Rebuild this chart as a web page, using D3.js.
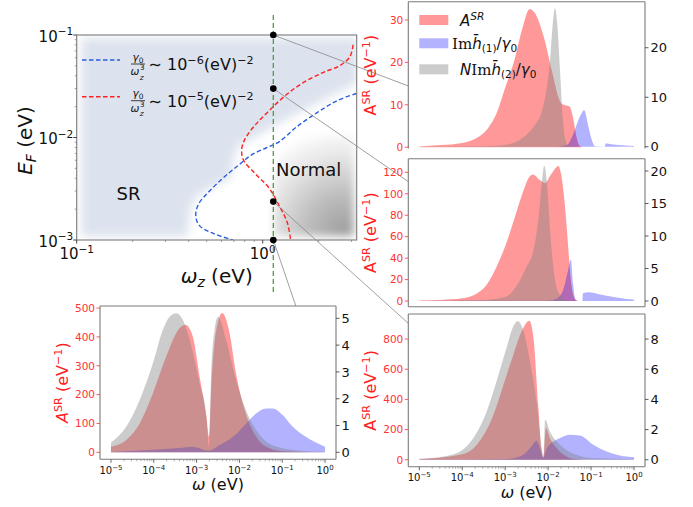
<!DOCTYPE html>
<html><head><meta charset="utf-8">
<script src="https://d3js.org/d3.v7.min.js"></script>
<style>
html,body{margin:0;padding:0;background:#fff;}
svg{display:block;}
text{font-family:"DejaVu Sans","Liberation Sans",sans-serif;}
</style></head><body>
<svg id="fig" width="693" height="507"></svg>
<script>
// ================= DATA =================
// main phase diagram (log10 values)
const mainOmegaMajor = [0.1, 1];
const mainOmegaMinor = [0.2,0.3,0.4,0.5,0.6,0.7,0.8,0.9,2,3];
const mainEFMajor = [1e-3, 1e-2, 1e-1];
const mainEFMinor = [2e-3,3e-3,4e-3,5e-3,6e-3,7e-3,8e-3,9e-3,2e-2,3e-2,4e-2,5e-2,6e-2,7e-2,8e-2,9e-2];

const curve6LogOmega = [0.504,0.40,0.29,0.18,0.09,0.02,-0.06,-0.13,-0.21,-0.29,-0.345,-0.36,-0.34,-0.26,-0.16];
const curve6LogEF    = [-1.571,-1.64,-1.76,-1.90,-2.04,-2.10,-2.17,-2.27,-2.39,-2.53,-2.65,-2.76,-2.86,-2.94,-3.0];
const curve5LogOmega = [0.486,0.468,0.414,0.323,0.214,0.123,0.033,-0.040,-0.095,-0.113,-0.104,-0.040,0.033,0.087,0.132,0.150];
const curve5LogEF    = [-1.095,-1.214,-1.299,-1.367,-1.469,-1.588,-1.741,-1.877,-2.014,-2.116,-2.218,-2.354,-2.490,-2.660,-2.830,-3.0];

const srLogOmega = [-0.975,0.51,0.51,0.323,0.141,-0.040,-0.131,-0.158,-0.167,-0.294,-0.367,-0.394,-0.403,-0.975];
const srLogEF    = [-1.03,-1.03,-1.469,-1.639,-1.809,-1.997,-2.082,-2.218,-2.388,-2.507,-2.592,-2.762,-2.966,-2.966];
const normalLogOmega = [0.06,0.49,0.49,0.06];
const normalLogEF    = [-1.98,-1.98,-2.96,-2.96];

const cutOmega = 1.14;
const cutEF = [0.1, 0.03, 0.00237, 0.001];

// panel x axis (log10 omega)
const panelLogOmegaMajor = [-5,-4,-3,-2,-1,0];

// Panel 1 (E_F = 0.1)
const p1RedLogW  = [-5.0,-4.5,-4.0,-3.7,-3.4,-3.2,-3.0,-2.8,-2.6,-2.43,-2.3,-2.1,-1.9,-1.75,-1.68,-1.5,-1.42,-1.35,-1.28,-1.2,0.0];
const p1Red      = [0.2,0.5,1.0,2.0,4.5,8,14,20,28,32.6,31.5,26,17.5,11.5,10.2,9.6,7,3,0.5,0,0];
const p1BlueLogW = [-5.0,-1.8,-1.57,-1.41,-1.26,-1.16,-1.06,-0.98,-0.91,-0.68,-0.66,-0.48,-0.25,0.0];
const p1Blue     = [0,0,0.3,2.7,6.1,7.4,4,1.3,0.1,0,0.65,0.45,0.3,0.15];
const p1GrayLogW = [-5.0,-3.5,-3.0,-2.7,-2.5,-2.3,-2.15,-2.03,-1.95,-1.9,-1.84,-1.78,-1.72,-1.66,-1.6,-1.52,-1.4,0.0];
const p1Gray     = [0,0.1,0.4,1.2,2.5,4.5,7,12,18,24,28,24,15,6,1.5,0.2,0,0];
const p1TicksL = [0,10,20,30], p1TicksR = [0,10,20];

// Panel 2 (E_F = 0.03)
const p2RedLogW  = [-5.0,-4.5,-4.0,-3.5,-3.2,-3.0,-2.8,-2.6,-2.45,-2.35,-2.2,-2.07,-1.95,-1.8,-1.76,-1.7,-1.62,-1.55,-1.48,-1.4,-1.3,0];
const p2Red      = [0.5,1,2.5,12,32,51,75,100,115,118,113,110,117,125,126,119,94,60,23,4,0,0];
const p2BlueLogW = [-5,-2.0,-1.8,-1.65,-1.55,-1.47,-1.42,-1.36,-1.3,-1.2,-1.19,-1.06,-0.79,-0.48,-0.17,0];
const p2Blue     = [0,0.05,0.4,1.7,4.3,6.4,2.7,0.15,0,0,1.2,1.35,1.0,0.6,0.3,0.2];
const p2GrayLogW = [-5,-3.5,-3.0,-2.7,-2.5,-2.34,-2.22,-2.15,-2.09,-2.03,-1.95,-1.85,-1.75,-1.6,-1.5,0];
const p2Gray     = [0,0.15,0.6,2.7,5.3,7.8,13,18,20.8,18.4,10.4,3.7,1.2,0.2,0,0];
const p2TicksL = [0,20,40,60,80,100,120], p2TicksR = [0,5,10,15,20];

// Panel 3 (E_F ~ 0.0024)
const p3RedLogW  = [-5.0,-4.05,-3.66,-3.27,-3.04,-2.81,-2.58,-2.44,-2.34,-2.23,-2.15,-2.11,-2.05,-1.96,-1.8,-1.57,-1.34,-1.0,0];
const p3Red      = [4,33,100,300,497,696,873,921,806,365,55,11,210,144,77,22,4,0,0];
const p3BlueLogW = [-5,-3.0,-2.89,-2.58,-2.39,-2.27,-2.19,-2.11,-2.03,-1.72,-1.49,-1.26,-0.95,-0.64,-0.33,0];
const p3Blue     = [0.01,0.05,0.07,0.33,0.88,1.26,0.77,0.15,0.77,1.44,1.66,1.61,1.0,0.55,0.29,0.18];
const p3GrayLogW = [-5.0,-4.44,-4.05,-3.74,-3.43,-3.2,-2.97,-2.81,-2.71,-2.57,-2.42,-2.26,-2.15,-2.11,-2.07,-1.96,-1.72,-1.41,-0.95,0];
const p3Gray     = [0.07,0.22,0.55,1.44,3.2,5.2,7.4,8.84,9.2,8.5,6.5,3.65,0.77,0.22,2.65,1.88,1.0,0.4,0.11,0.04];
const p3TicksL = [0,200,400,600,800], p3TicksR = [0,2,4,6,8];

// Panel 4 (E_F = 0.001)
const p4RedLogW  = [-5.0,-4.64,-4.33,-4.02,-3.71,-3.40,-3.26,-3.09,-2.93,-2.77,-2.71,-2.66,-2.54,-2.40,-2.23,-2.08,-1.85,-1.61,-1.38,-0.99,0];
const p4Red      = [20,43,100,205,332,430,442,402,263,124,54,216,425,483,413,274,135,54,20,3.5,0];
const p4BlueLogW = [-5.0,-4.1,-3.4,-3.09,-2.71,-2.46,-2.15,-1.84,-1.61,-1.38,-1.22,-0.99,-0.76,-0.45,0];
const p4Blue     = [0.01,0.09,0.16,0.21,0.06,0.27,0.58,1.08,1.45,1.64,1.64,1.39,0.96,0.58,0.21];
const p4GrayLogW = [-5.0,-4.64,-4.33,-4.02,-3.79,-3.63,-3.47,-3.32,-3.16,-2.93,-2.77,-2.71,-2.66,-2.58,-2.50,-2.31,-2.08,-1.85,-1.61,-1.38,-0.99,-0.58,0];
const p4Gray     = [0.36,0.96,1.95,3.32,4.56,5.06,5.19,4.94,4.19,2.57,1.33,0.2,2.95,4.56,5.06,4.19,2.7,1.58,0.83,0.4,0.15,0.06,0.02];
const p4TicksL = [0,100,200,300,400,500], p4TicksR = [0,1,2,3,4,5];

// ================= DRAW =================
const RED = "rgba(255,0,0,0.4)", BLUE = "rgba(0,0,255,0.3)", GRAY = "rgba(128,128,128,0.4)";
const SPINE = "#7a7a7a", TXT = "#111", LRED = "#ff3333";
const fig = d3.select("#fig");
const defs = fig.append("defs");
defs.append("filter").attr("id","blur5").attr("x","-20%").attr("y","-20%").attr("width","140%").attr("height","140%")
  .append("feGaussianBlur").attr("stdDeviation",5);
defs.append("filter").attr("id","blur4").attr("x","-20%").attr("y","-20%").attr("width","140%").attr("height","140%")
  .append("feGaussianBlur").attr("stdDeviation",4);

function supText(sel, base, exp, size){
  sel.append("tspan").text(base);
  sel.append("tspan").attr("dy", -0.42*size).attr("font-size", size*0.7).text(exp);
}
const expStr = e => e < 0 ? "\u2212" + (-e) : String(e);

// ---------- main panel ----------
const MB = {l:76.7, r:356.7, t:35, b:240};
const xM = d3.scaleLog().domain([0.1, 3.2]).range([MB.l, MB.r]);
const yM = d3.scaleLog().domain([1e-3, 0.1]).range([MB.b, MB.t]);
defs.append("clipPath").attr("id","clipMain").append("rect")
  .attr("x",MB.l).attr("y",MB.t).attr("width",MB.r-MB.l).attr("height",MB.b-MB.t);
const toPts = (lx, ly) => lx.map((v,i)=>[xM(10**v), yM(10**ly[i])]);

const grad = defs.append("radialGradient").attr("id","normGrad").attr("gradientUnits","userSpaceOnUse")
  .attr("cx", xM(10**0.44)).attr("cy", yM(10**-2.92)).attr("r", 105);
grad.append("stop").attr("offset",0).attr("stop-color","#9e9e9e");
grad.append("stop").attr("offset",0.35).attr("stop-color","#bdbdbd");
grad.append("stop").attr("offset",0.7).attr("stop-color","#e4e4e4");
grad.append("stop").attr("offset",1).attr("stop-color","#ffffff");

const gMain = fig.append("g");
const gClip = gMain.append("g").attr("clip-path","url(#clipMain)");
gClip.append("path").attr("d", d3.line()(toPts(srLogOmega, srLogEF)) + "Z")
  .attr("fill","#dde3ee").attr("filter","url(#blur5)");
gClip.append("path").attr("d", d3.line()(toPts(normalLogOmega, normalLogEF)) + "Z")
  .attr("fill","url(#normGrad)").attr("filter","url(#blur4)");
gClip.append("path").attr("d", d3.line().curve(d3.curveCatmullRom)(toPts(curve6LogOmega, curve6LogEF)))
  .attr("fill","none").attr("stroke","#2a5ee0").attr("stroke-width",1.4).attr("stroke-dasharray","4.5,2.5");
gClip.append("path").attr("d", d3.line().curve(d3.curveCatmullRom)(toPts(curve5LogOmega, curve5LogEF)))
  .attr("fill","none").attr("stroke","#ff2020").attr("stroke-width",1.4).attr("stroke-dasharray","4.5,2.5");

// spines
gMain.append("rect").attr("x",MB.l).attr("y",MB.t).attr("width",MB.r-MB.l).attr("height",MB.b-MB.t)
  .attr("fill","none").attr("stroke",SPINE).attr("stroke-width",1.1);
// ticks
gMain.selectAll(".xmaj").data(mainOmegaMajor).join("line")
  .attr("x1",d=>xM(d)).attr("x2",d=>xM(d)).attr("y1",MB.b).attr("y2",MB.b+3.5).attr("stroke","#444");
gMain.selectAll(".xmin").data(mainOmegaMinor).join("line")
  .attr("x1",d=>xM(d)).attr("x2",d=>xM(d)).attr("y1",MB.b).attr("y2",MB.b+2).attr("stroke","#777").attr("stroke-width",0.7);
gMain.selectAll(".ymaj").data(mainEFMajor).join("line")
  .attr("y1",d=>yM(d)).attr("y2",d=>yM(d)).attr("x1",MB.l).attr("x2",MB.l-3.5).attr("stroke","#444");
gMain.selectAll(".ymin").data(mainEFMinor).join("line")
  .attr("y1",d=>yM(d)).attr("y2",d=>yM(d)).attr("x1",MB.l).attr("x2",MB.l-2).attr("stroke","#777").attr("stroke-width",0.7);
mainOmegaMajor.forEach(d=>{
  const t = gMain.append("text").attr("x",xM(d)).attr("y",MB.b+19).attr("text-anchor","middle")
    .attr("font-size",15).attr("fill",TXT);
  supText(t, "10", expStr(Math.round(Math.log10(d))), 15);
});
mainEFMajor.forEach(d=>{
  const t = gMain.append("text").attr("x",MB.l-3.5).attr("y",yM(d)+6.5).attr("text-anchor","end")
    .attr("font-size",15).attr("fill",TXT);
  supText(t, "10", expStr(Math.round(Math.log10(d))), 15);
});
// axis labels
{
  const t = gMain.append("text").attr("x",(MB.l+MB.r)/2).attr("y",283).attr("text-anchor","middle")
    .attr("font-size",20).attr("fill",TXT);
  t.append("tspan").attr("font-style","italic").text("\u03c9");
  t.append("tspan").attr("font-style","italic").attr("font-size",14).attr("dy",4).text("z");
  t.append("tspan").attr("dy",-4).text(" (eV)");
  const u = gMain.append("text").attr("transform",`translate(32,${(MB.t+MB.b)/2+3}) rotate(-90)`)
    .attr("text-anchor","middle").attr("font-size",20).attr("fill",TXT);
  u.append("tspan").attr("font-style","italic").text("E");
  u.append("tspan").attr("font-style","italic").attr("font-size",14).attr("dy",4).text("F");
  u.append("tspan").attr("dy",-4).text(" (eV)");
}
// region labels
gMain.append("text").attr("x",xM(0.19)).attr("y",yM(10**-2.61)).attr("text-anchor","middle")
  .attr("font-size",18).attr("fill",TXT).text("SR");
gMain.append("text").attr("x",xM(1.18)).attr("y",yM(10**-2.375)).attr("text-anchor","start")
  .attr("font-size",18).attr("fill",TXT).text("Normal");

// legend of main panel
function fracLegend(y, color, exp){
  gMain.append("line").attr("x1",82).attr("x2",120).attr("y1",y).attr("y2",y)
    .attr("stroke",color).attr("stroke-width",1.4).attr("stroke-dasharray","4.5,2.5");
  const fx = 138;
  const n = gMain.append("text").attr("x",fx).attr("y",y+0.5).attr("text-anchor","middle").attr("font-size",10.5).attr("fill",TXT);
  n.append("tspan").attr("font-style","italic").text("\u03b3");
  n.append("tspan").attr("font-size",7.5).attr("dy",2).text("0");
  gMain.append("line").attr("x1",fx-7).attr("x2",fx+7).attr("y1",y+4).attr("y2",y+4).attr("stroke",TXT).attr("stroke-width",0.8);
  gMain.append("text").attr("x",fx-7.5).attr("y",y+15).attr("font-size",10.5).attr("font-style","italic").attr("fill",TXT).text("\u03c9");
  gMain.append("text").attr("x",fx+1.8).attr("y",y+10.2).attr("font-size",7.5).attr("fill",TXT).text("3");
  gMain.append("text").attr("x",fx+1.8).attr("y",y+19.5).attr("font-size",7.5).attr("font-style","italic").attr("fill",TXT).text("z");
  const t = gMain.append("text").attr("x",148.5).attr("y",y+10).attr("font-size",16).attr("fill",TXT);
  t.append("tspan").text("\u223c ");
  t.append("tspan").text("10");
  t.append("tspan").attr("font-size",11.2).attr("dy",-6.5).text(exp);
  t.append("tspan").attr("dy",6.5).text("(eV)");
  t.append("tspan").attr("font-size",11.2).attr("dy",-6.5).text("\u22122");
}
fracLegend(60, "#2a5ee0", "\u22126");
fracLegend(96.7, "#ff2020", "\u22125");

// ---------- side panels ----------
const panels = [
  {id:1, l:408.3, r:645, t:1.7, b:148.5, yL:[-0.3,34.3], yR:[-0.35,29.3], tL:p1TicksL, tR:p1TicksR,
   redW:p1RedLogW, red:p1Red, blueW:p1BlueLogW, blue:p1Blue, grayW:p1GrayLogW, gray:p1Gray,
   bottom:false, xlab:false, italicA:false, ylabX:376, conn:[0, 0.574]},
  {id:2, l:408.3, r:645, t:158.7, b:306.7, yL:[-5.3,132.7], yR:[-0.88,21.9], tL:p2TicksL, tR:p2TicksR,
   redW:p2RedLogW, red:p2Red, blueW:p2BlueLogW, blue:p2Blue, grayW:p2GrayLogW, gray:p2Gray,
   bottom:true, xlab:false, italicA:false, ylabX:376, conn:[0, 0.155]},
  {id:3, l:408.3, r:645, t:314, b:466.7, yL:[-46,966], yR:[-0.46,9.66], tL:p3TicksL, tR:p3TicksR,
   redW:p3RedLogW, red:p3Red, blueW:p3BlueLogW, blue:p3Blue, grayW:p3GrayLogW, gray:p3Gray,
   bottom:true, xlab:true, italicA:false, ylabX:376, conn:[0, 0.061]},
  {id:4, l:100, r:336, t:306, b:459.3, yL:[-24.15,507.2], yR:[-0.26,5.46], tL:p4TicksL, tR:p4TicksR,
   redW:p4RedLogW, red:p4Red, blueW:p4BlueLogW, blue:p4Blue, grayW:p4GrayLogW, gray:p4Gray,
   bottom:true, xlab:true, italicA:true, ylabX:68, conn:[0.83, 0]}
];

// connection lines (under the panels)
const gConn = fig.append("g");
panels.forEach((p,i)=>{
  gConn.append("line").attr("x1",xM(cutOmega)).attr("y1",yM(cutEF[i]))
    .attr("x2",p.l + p.conn[0]*(p.r-p.l)).attr("y2",p.t + p.conn[1]*(p.b-p.t))
    .attr("stroke","#888").attr("stroke-width",0.8);
});

function drawPanel(p){
  const g = fig.append("g");
  const x = d3.scaleLog().domain([10**-5.256, 10**0.256]).range([p.l, p.r]);
  const yL = d3.scaleLinear().domain(p.yL).range([p.b, p.t]);
  const yR = d3.scaleLinear().domain(p.yR).range([p.b, p.t]);
  g.append("rect").attr("x",p.l).attr("y",p.t).attr("width",p.r-p.l).attr("height",p.b-p.t).attr("fill","#fff");
  defs.append("clipPath").attr("id","clipP"+p.id).append("rect")
    .attr("x",p.l).attr("y",p.t).attr("width",p.r-p.l).attr("height",p.b-p.t);
  const gp = g.append("g").attr("clip-path",`url(#clipP${p.id})`);
  const area = (ys, lw, v) => d3.area().curve(d3.curveMonotoneX)
    .x((d,i)=>x(10**lw[i])).y0(ys(0)).y1(d=>ys(d))(v);
  gp.append("path").attr("d", area(yL, p.redW, p.red)).attr("fill", RED);
  gp.append("path").attr("d", area(yR, p.blueW, p.blue)).attr("fill", BLUE);
  gp.append("path").attr("d", area(yR, p.grayW, p.gray)).attr("fill", GRAY);
  // spines
  const sp = (x1,y1,x2,y2)=>g.append("line").attr("x1",x1).attr("y1",y1).attr("x2",x2).attr("y2",y2)
    .attr("stroke",SPINE).attr("stroke-width",1.1);
  sp(p.l,p.t,p.r,p.t); sp(p.l,p.t,p.l,p.b); sp(p.r,p.t,p.r,p.b);
  if (p.bottom) sp(p.l,p.b,p.r,p.b);
  // left ticks (red)
  p.tL.forEach(v=>{
    g.append("line").attr("x1",p.l-3.5).attr("x2",p.l).attr("y1",yL(v)).attr("y2",yL(v)).attr("stroke",LRED).attr("stroke-width",0.8);
    g.append("text").attr("x",p.l-5).attr("y",yL(v)+3.8).attr("text-anchor","end").attr("font-size",10.5)
      .attr("fill",LRED).text(v);
  });
  // right ticks
  p.tR.forEach(v=>{
    g.append("line").attr("x1",p.r).attr("x2",p.r+3.5).attr("y1",yR(v)).attr("y2",yR(v)).attr("stroke","#333").attr("stroke-width",0.8);
    g.append("text").attr("x",p.r+5.5).attr("y",yR(v)+4.7).attr("text-anchor","start").attr("font-size",13)
      .attr("fill",TXT).text(v);
  });
  // x axis
  if (p.xlab){
    panelLogOmegaMajor.forEach(e=>{
      g.append("line").attr("x1",x(10**e)).attr("x2",x(10**e)).attr("y1",p.b).attr("y2",p.b+3.5).attr("stroke","#444").attr("stroke-width",0.8);
      const t = g.append("text").attr("x",x(10**e)).attr("y",p.b+14.5).attr("text-anchor","middle")
        .attr("font-size",10).attr("fill",TXT);
      supText(t,"10",expStr(e),10);
      if (e < 0) d3.range(2,10).forEach(m=>{
        g.append("line").attr("x1",x(m*10**e)).attr("x2",x(m*10**e)).attr("y1",p.b).attr("y2",p.b+2)
          .attr("stroke","#777").attr("stroke-width",0.6);
      });
    });
    const t = g.append("text").attr("x",(p.l+p.r)/2).attr("y",p.b+31).attr("text-anchor","middle")
      .attr("font-size",16).attr("fill",TXT);
    t.append("tspan").attr("font-style","italic").text("\u03c9");
    t.append("tspan").text(" (eV)");
  }
  // y label
  const t = g.append("text").attr("transform",`translate(${p.ylabX},${(p.t+p.b)/2}) rotate(-90)`)
    .attr("text-anchor","middle").attr("font-size",16).attr("fill","#ff2020");
  t.append("tspan").attr("font-style", p.italicA ? "italic" : "normal").text("A");
  t.append("tspan").attr("font-size",11.2).attr("dy",-6.5).text("SR");
  t.append("tspan").attr("dy",6.5).text(" (eV");
  t.append("tspan").attr("font-size",11.2).attr("dy",-6.5).text("\u22121");
  t.append("tspan").attr("dy",6.5).text(")");
  return g;
}
panels.forEach(drawPanel);

// legend in panel 1
{
  const g = fig.append("g");
  const rows = [{c:RED, y:20}, {c:BLUE, y:43.3}, {c:GRAY, y:69.3}];
  rows.forEach(r=>g.append("rect").attr("x",419.3).attr("y",r.y-5).attr("width",29).attr("height",10).attr("fill",r.c));
  const t1 = g.append("text").attr("x",460).attr("y",25.5).attr("font-size",15).attr("fill",TXT);
  t1.append("tspan").attr("font-style","italic").text("A");
  t1.append("tspan").attr("font-size",10.5).attr("dy",-6).attr("font-style","italic").text("SR");
  function hText(x, y, lead, idx){
    const t = g.append("text").attr("x",x).attr("y",y).attr("font-size",15).attr("fill",TXT);
    if (lead) t.append("tspan").attr("font-style","italic").text(lead);
    t.append("tspan").attr("font-family","DejaVu Serif, serif").text("Im");
    t.append("tspan").attr("font-style","italic").text("h\u0304");
    t.append("tspan").attr("font-size",10.5).attr("dy",3.5).text(idx);
    t.append("tspan").attr("dy",-3.5).text("/");
    t.append("tspan").attr("font-style","italic").text("\u03b3");
    t.append("tspan").attr("font-size",10.5).attr("dy",3.5).text("0");
  }
  hText(452, 48.5, "", "(1)");
  hText(460, 74.5, "N", "(2)");
}

// vertical cut line and dots
const gTop = fig.append("g");
gTop.append("line").attr("x1",xM(cutOmega)).attr("x2",xM(cutOmega)).attr("y1",15).attr("y2",292)
  .attr("stroke","#4f9d3a").attr("stroke-width",1.3).attr("stroke-dasharray","5,3");
gTop.selectAll("circle").data(cutEF).join("circle")
  .attr("cx",xM(cutOmega)).attr("cy",d=>yM(d)).attr("r",3.3).attr("fill","#000");
</script>
</body></html>
